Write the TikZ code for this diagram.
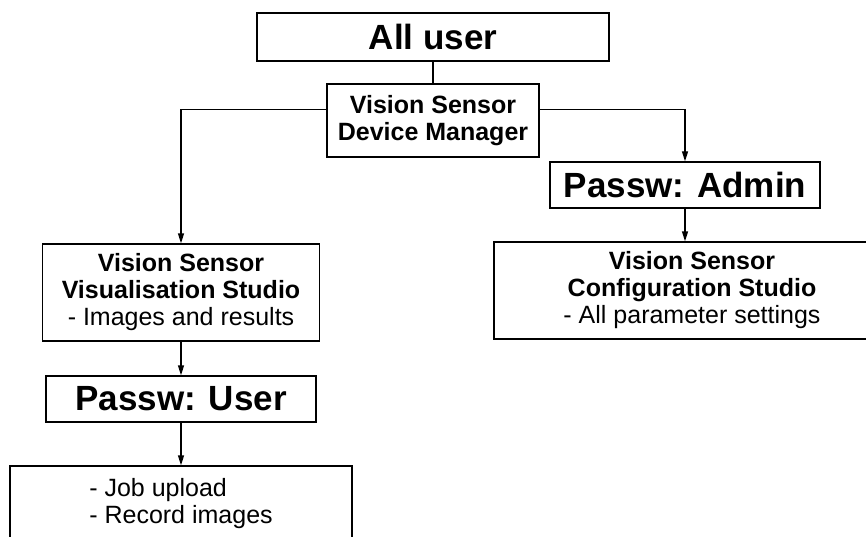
\documentclass[tikz,border=0pt]{standalone}
\usepackage{fontspec}
\setmainfont{Liberation Sans}
\usetikzlibrary{arrows.meta}
\begin{document}
\begin{tikzpicture}[x=1pt, y=-1pt, line width=1.4pt,
  box/.style={draw, inner sep=0pt, align=center, font=\fontsize{25}{27}\selectfont},
  passbox/.style={box, font=\fontsize{35}{40}\selectfont\bfseries},
  arr/.style={-{Triangle[length=10pt,width=6pt]}}]
\useasboundingbox (0,0) rectangle (866,537);

% top of the tree
\node[passbox, minimum width=352pt, minimum height=48pt] (alluser) at (433,37) {All user};
\node[box, minimum width=212pt, minimum height=73pt] (devmgr) at (433,120.5)
  {\textbf{Vision Sensor}\\\textbf{Device Manager}};

% left branch
\node[box, minimum width=277pt, minimum height=97pt] (visstudio) at (181,292.5)
  {\textbf{Vision Sensor}\\\textbf{Visualisation Studio}\\- Images and results};
\node[passbox, minimum width=270pt, minimum height=46pt] (pwuser) at (181,399) {Passw: User};
\node[box, align=left, minimum width=342pt, minimum height=75pt] (userrights) at (181,503.5)
  {- Job upload\\- Record images};

% right branch
\node[passbox, minimum width=270pt, minimum height=46pt] (pwadmin) at (685,185) {Passw: Admin};
\node[box, minimum width=396pt, minimum height=97pt] (confstudio) at (692,290.5)
  {\textbf{Vision Sensor}\\\textbf{Configuration Studio}\\- All parameter settings};

% connectors
\draw (alluser) -- (devmgr);
\draw[arr] ([yshift=11pt]devmgr.west) -| (visstudio.north);
\draw[arr] ([yshift=11pt]devmgr.east) -| (pwadmin.north);
\draw[arr] (visstudio) -- (pwuser);
\draw[arr] (pwuser) -- (userrights);
\draw[arr] (pwadmin.south) -- (pwadmin.south |- confstudio.north);
\end{tikzpicture}
\end{document}
